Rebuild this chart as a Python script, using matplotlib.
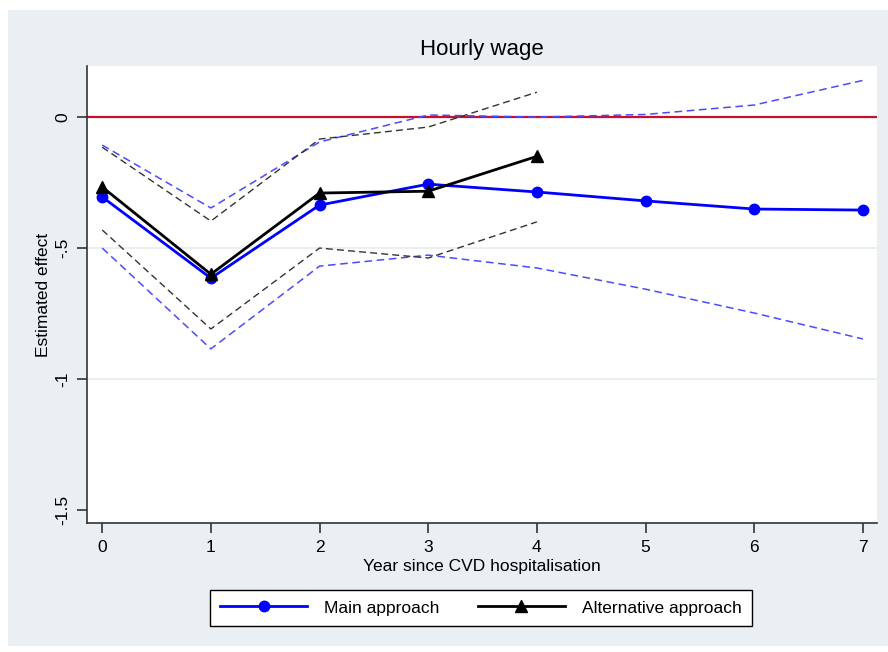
import matplotlib
matplotlib.use("Agg")
import matplotlib.pyplot as plt
from matplotlib.patches import Rectangle
from matplotlib.lines import Line2D

plt.rcParams['font.family'] = ['Liberation Sans', 'DejaVu Sans']

# Years since hospitalisation
years_main = [0, 1, 2, 3, 4, 5, 6, 7]
years_alt = [0, 1, 2, 3, 4]

# Main approach: point estimates and 95% CI bounds
main_est = [-0.305, -0.615, -0.336, -0.256, -0.286, -0.320, -0.351, -0.355]
main_hi = [-0.107, -0.347, -0.095, 0.008, 0.000, 0.010, 0.046, 0.140]
main_lo = [-0.500, -0.885, -0.569, -0.527, -0.576, -0.657, -0.748, -0.847]

# Alternative approach: point estimates and 95% CI bounds
alt_est = [-0.267, -0.600, -0.290, -0.283, -0.150]
alt_hi = [-0.115, -0.397, -0.084, -0.038, 0.095]
alt_lo = [-0.431, -0.809, -0.500, -0.538, -0.400]

yticks = [0, -0.5, -1, -1.5]
ytick_labels = ["0", "-.5", "-1", "-1.5"]

W, H = 888, 652
fig = plt.figure(figsize=(W / 100, H / 100), dpi=100)
fig.patch.set_facecolor("white")

panel_col = "#e9eff2"
panel = Rectangle((8 / W, 1 - 646 / H), (W - 8) / W, (646 - 10) / H,
                  transform=fig.transFigure, facecolor=panel_col,
                  edgecolor="none", zorder=-10)
fig.add_artist(panel)

ax = fig.add_axes([87 / W, 1 - 523 / H, (877 - 87) / W, (523 - 66) / H])
ax.set_zorder(1)
ax.set_facecolor("white")

x0, x1 = -0.14, 7.13
ax.set_xlim(x0, x1)
ax.set_ylim(-1.5 - 13 / 262, 0.195)

# gridlines
for g in [-0.5, -1.0]:
    ax.axhline(g, color="#e6edf0", lw=1.2, zorder=1)
ax.axhline(0, color="#c8102e", lw=1.6, zorder=2)

blue_ci = "#4a4aff"
ax.plot(years_main, main_hi, color=blue_ci, lw=1.1, ls=(0, (5, 3)), zorder=3)
ax.plot(years_main, main_lo, color=blue_ci, lw=1.1, ls=(0, (5, 3)), zorder=3)
ax.plot(years_alt, alt_hi, color="#333333", lw=1.0, ls=(0, (5, 3)), zorder=3)
ax.plot(years_alt, alt_lo, color="#333333", lw=1.0, ls=(0, (5, 3)), zorder=3)

ax.plot(years_main, main_est, color="#0000ff", lw=2.0, marker="o", ms=7.5,
        zorder=4)
ax.plot(years_alt, alt_est, color="black", lw=2.0, marker="^", ms=9,
        zorder=5)

for s in ["top", "right"]:
    ax.spines[s].set_visible(False)
for s in ["left", "bottom"]:
    ax.spines[s].set_color("#333333")
    ax.spines[s].set_linewidth(1.2)

ax.set_xticks(years_main)
ax.set_xticklabels([str(v) for v in years_main], fontsize=12.5)
ax.set_yticks(yticks)
ax.set_yticklabels(ytick_labels, fontsize=12.5, rotation=90, va="center")
ax.tick_params(axis="both", direction="out", length=7, width=1.2,
               color="#333333", pad=5)

ax.set_xlabel("Year since CVD hospitalisation", fontsize=12.5, labelpad=3)
ax.set_ylabel("Estimated effect", fontsize=12.5, labelpad=3)
ax.set_title("Hourly wage", fontsize=16, pad=8)

handles = [
    Line2D([], [], color="#0000ff", lw=2.0, marker="o", ms=7.5),
    Line2D([], [], color="black", lw=2.0, marker="^", ms=9),
]
leg = fig.legend(handles, ["Main approach", "Alternative approach"],
                 loc="center", bbox_to_anchor=(481 / W, 1 - 608 / H),
                 ncol=2, fontsize=12.5, frameon=True, fancybox=False,
                 framealpha=1.0, facecolor="white",
                 handlelength=5.0, columnspacing=2.2, borderpad=0.6,
                 handletextpad=1.0)
leg.get_frame().set_edgecolor("black")
leg.get_frame().set_linewidth(1.0)
leg.set_zorder(2)

fig.savefig("out.png", dpi=100, facecolor="white")
